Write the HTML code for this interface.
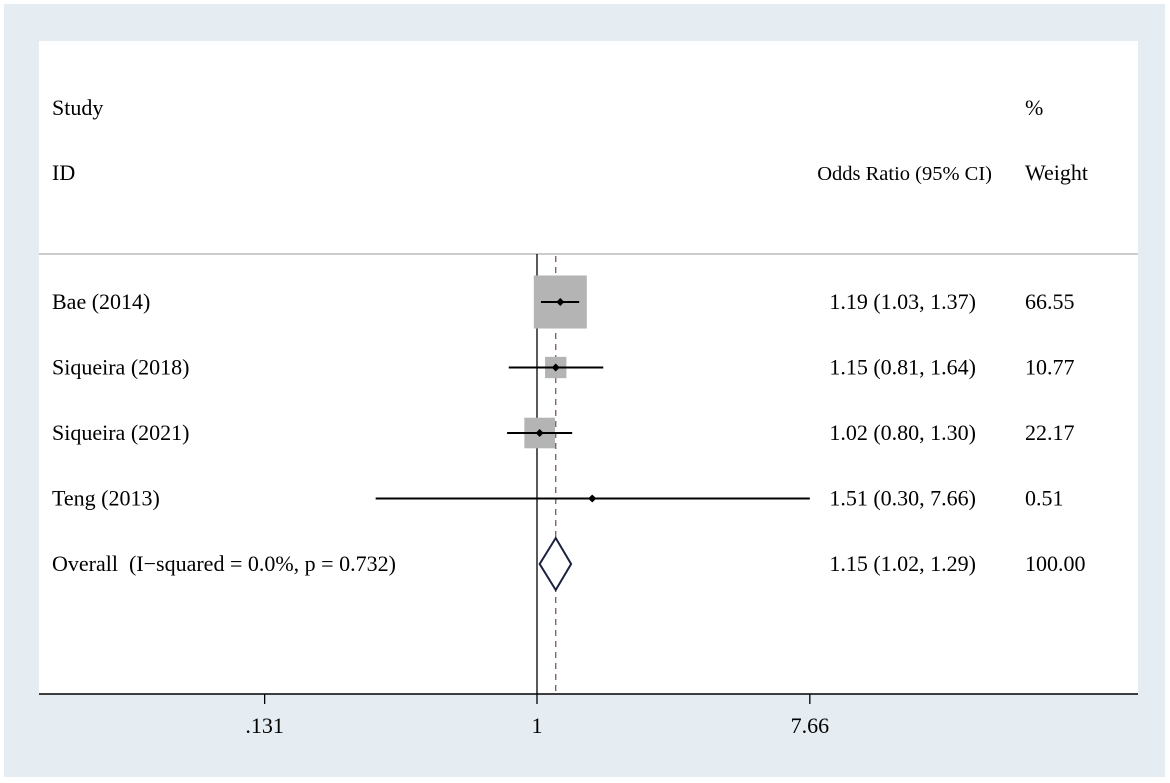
<!DOCTYPE html>
<html><head><meta charset="utf-8"><style>
body{margin:0;background:#fff;}
svg{display:block;font-family:"Liberation Serif",serif;}
.lab,.num,.wt{font-size:22px;}
</style></head><body>
<svg width="1170" height="783" xmlns="http://www.w3.org/2000/svg">
<rect x="4" y="4" width="1161" height="773" fill="#e6edf2"/>
<rect x="39" y="41" width="1099" height="653" fill="#fff"/>
<text x="52" y="115" class="lab">Study</text>
<text x="52" y="180" class="lab">ID</text>
<text x="992" y="180" font-size="20.5" text-anchor="end">Odds Ratio (95% CI)</text>
<text x="1025" y="115" class="wt">%</text>
<text x="1025" y="180" class="wt">Weight</text>
<line x1="39" y1="254" x2="1138" y2="254" stroke="#bbb" stroke-width="1.5"/>
<g id="marks"></g>
<line x1="39" y1="694" x2="1138" y2="694" stroke="#000" stroke-width="1.5"/>
<g id="ticks"></g>
</svg>
<script>
const studies = ["Bae (2014)", "Siqueira (2018)", "Siqueira (2021)", "Teng (2013)"];
const orValues = [1.19, 1.15, 1.02, 1.51];
const ciLow = [1.03, 0.81, 0.80, 0.30];
const ciHigh = [1.37, 1.64, 1.30, 7.66];
const weights = [66.55, 10.77, 22.17, 0.51];
const overall = [1.15, 1.02, 1.29, 100.00];
const overallLabel = "Overall\u00a0\u00a0(I\u2212squared = 0.0%, p = 0.732)";
const tickValues = [0.131, 1, 7.66];
const tickLabels = [".131", "1", "7.66"];

const NS = "http://www.w3.org/2000/svg";
const xs = v => 537 + 134 * Math.log(v);
const rowY = i => 302 + i * 65.5;
const fmt = v => v.toFixed(2);
const marks = document.getElementById('marks');
function mk(tag, attrs, parent) {
  const e = document.createElementNS(NS, tag);
  for (const k in attrs) e.setAttribute(k, attrs[k]);
  (parent || marks).appendChild(e);
  return e;
}
let l = mk('line', {x1: xs(1), y1: 254, x2: xs(1), y2: 694, stroke: '#000', 'stroke-width': 1.3});


l = mk('line', {x1: xs(overall[0]), y1: 256, x2: xs(overall[0]), y2: 694, stroke: '#7a5a66', 'stroke-width': 1.3, 'stroke-dasharray': '6,5'});



studies.forEach((s, i) => {
  const y = rowY(i);
  const side = 6.5 * Math.sqrt(weights[i]);
  const cx = xs(orValues[i]);
  const b = mk('rect', {x: cx - side / 2, y: y - side / 2, width: side, height: side, fill: '#b4b4b4'});
  
  
  const c = mk('line', {x1: xs(ciLow[i]), y1: y, x2: xs(ciHigh[i]), y2: y, stroke: '#000', 'stroke-width': 2});
  
  
  const p = mk('path', {d: `M${cx - 4},${y} L${cx},${y - 4} L${cx + 4},${y} L${cx},${y + 4} Z`, fill: '#000'});
  
  
  const t1 = mk('text', {x: 52, y: y + 7, class: 'lab'});
  t1.textContent = s;
  
  
  const t2 = mk('text', {x: 976, y: y + 7, class: 'num', 'text-anchor': 'end'});
  t2.textContent = `${fmt(orValues[i])} (${fmt(ciLow[i])}, ${fmt(ciHigh[i])})`;
  
  
  const t3 = mk('text', {x: 1025, y: y + 7, class: 'wt'});
  t3.textContent = fmt(weights[i]);
  
  
});
const oy = rowY(4);
const d = mk('path', {d: `M${xs(overall[1])},${oy} L${xs(overall[0])},${oy - 26} L${xs(overall[2])},${oy} L${xs(overall[0])},${oy + 26} Z`, fill: '#fff', stroke: '#1a2040', 'stroke-width': 2});


let t = mk('text', {x: 52, y: oy + 7, class: 'lab'});
t.textContent = overallLabel;


t = mk('text', {x: 976, y: oy + 7, class: 'num', 'text-anchor': 'end'});
t.textContent = `${fmt(overall[0])} (${fmt(overall[1])}, ${fmt(overall[2])})`;


t = mk('text', {x: 1025, y: oy + 7, class: 'wt'});
t.textContent = fmt(overall[3]);



const tg = document.getElementById('ticks');
tickValues.forEach((v, i) => {
  const x = xs(v);
  const tk = mk('line', {x1: x, y1: 694, x2: x, y2: 704, stroke: '#000', 'stroke-width': 1.3}, tg);
  
  
  const tl = mk('text', {x: x, y: 733, 'font-size': 22, 'text-anchor': 'middle'}, tg);
  tl.textContent = tickLabels[i];
  
  
});
</script>
</body></html>
